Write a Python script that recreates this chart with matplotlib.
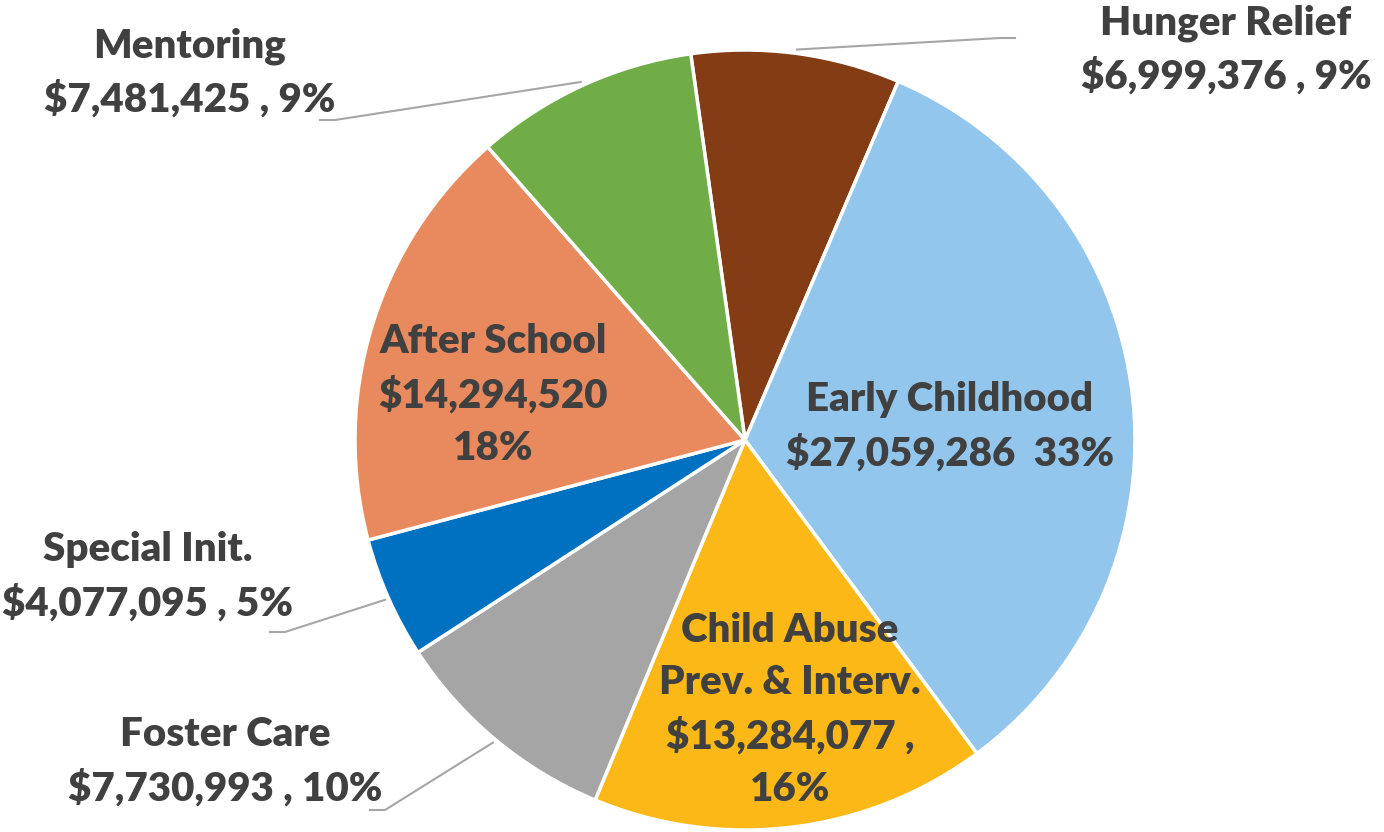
import numpy as np
import matplotlib.pyplot as plt

# Slices, clockwise from the top
names = ['Hunger Relief', 'Early Childhood', 'Child Abuse\nPrev. & Interv.', 'Foster Care',
         'Special Init.', 'After School', 'Mentoring']
amounts = [6999376, 27059286, 13284077, 7730993, 4077095, 14294520, 7481425]
label_texts = ['Hunger Relief\n$6,999,376 , 9%',
               'Early Childhood\n$27,059,286  33%',
               'Child Abuse\nPrev. & Interv.\n$13,284,077 ,\n16%',
               'Foster Care\n$7,730,993 , 10%',
               'Special Init.\n$4,077,095 , 5%',
               'After School\n$14,294,520\n18%',
               'Mentoring\n$7,481,425 , 9%']
colors = ['#843C15', '#93C6EC', '#FBB817', '#A5A5A5', '#0070C0', '#E88A5E', '#70AD47']

# label placement (pixel coords of text centre) and leader line end, None = inside
label_pos = [(1226, 50), (950, 427), (790, 710), (225, 762), (148, 577), (493, 395), (190, 73)]
leader_end = [(1000, 38), None, None, (385, 810), (285, 632), None, (335, 120)]

W, H = 1384, 832
cx, cy, R = 745, H - 440, 390

fig = plt.figure(figsize=(13.84, 8.32), dpi=100)
ax = fig.add_axes([0, 0, 1, 1])

start = 98
wedges, _ = ax.pie(amounts, colors=colors, startangle=start, counterclock=False,
                   center=(cx, cy), radius=R, frame=True,
                   wedgeprops=dict(edgecolor='white', linewidth=2.5))
ax.set_xlim(0, W)
ax.set_ylim(0, H)
ax.set_aspect('equal')
ax.axis('off')

font = dict(family=['Lato', 'DejaVu Sans'], fontweight='heavy', color='#404040',
            fontsize=29, ha='center', va='center', linespacing=1.5)

for w, txt, pos, end in zip(wedges, label_texts, label_pos, leader_end):
    ax.text(pos[0], H - pos[1], txt, **font)
    if end is not None:
        mid = np.deg2rad((w.theta1 + w.theta2) / 2)
        x0 = cx + R * 1.01 * np.cos(mid)
        y0 = cy + R * 1.01 * np.sin(mid)
        tail = 15 if end[0] > cx else -15
        ax.plot([x0, end[0], end[0] + tail], [y0, H - end[1], H - end[1]],
                color='#A6A6A6', linewidth=1.5)

fig.savefig('out.png', dpi=100, facecolor='white')
